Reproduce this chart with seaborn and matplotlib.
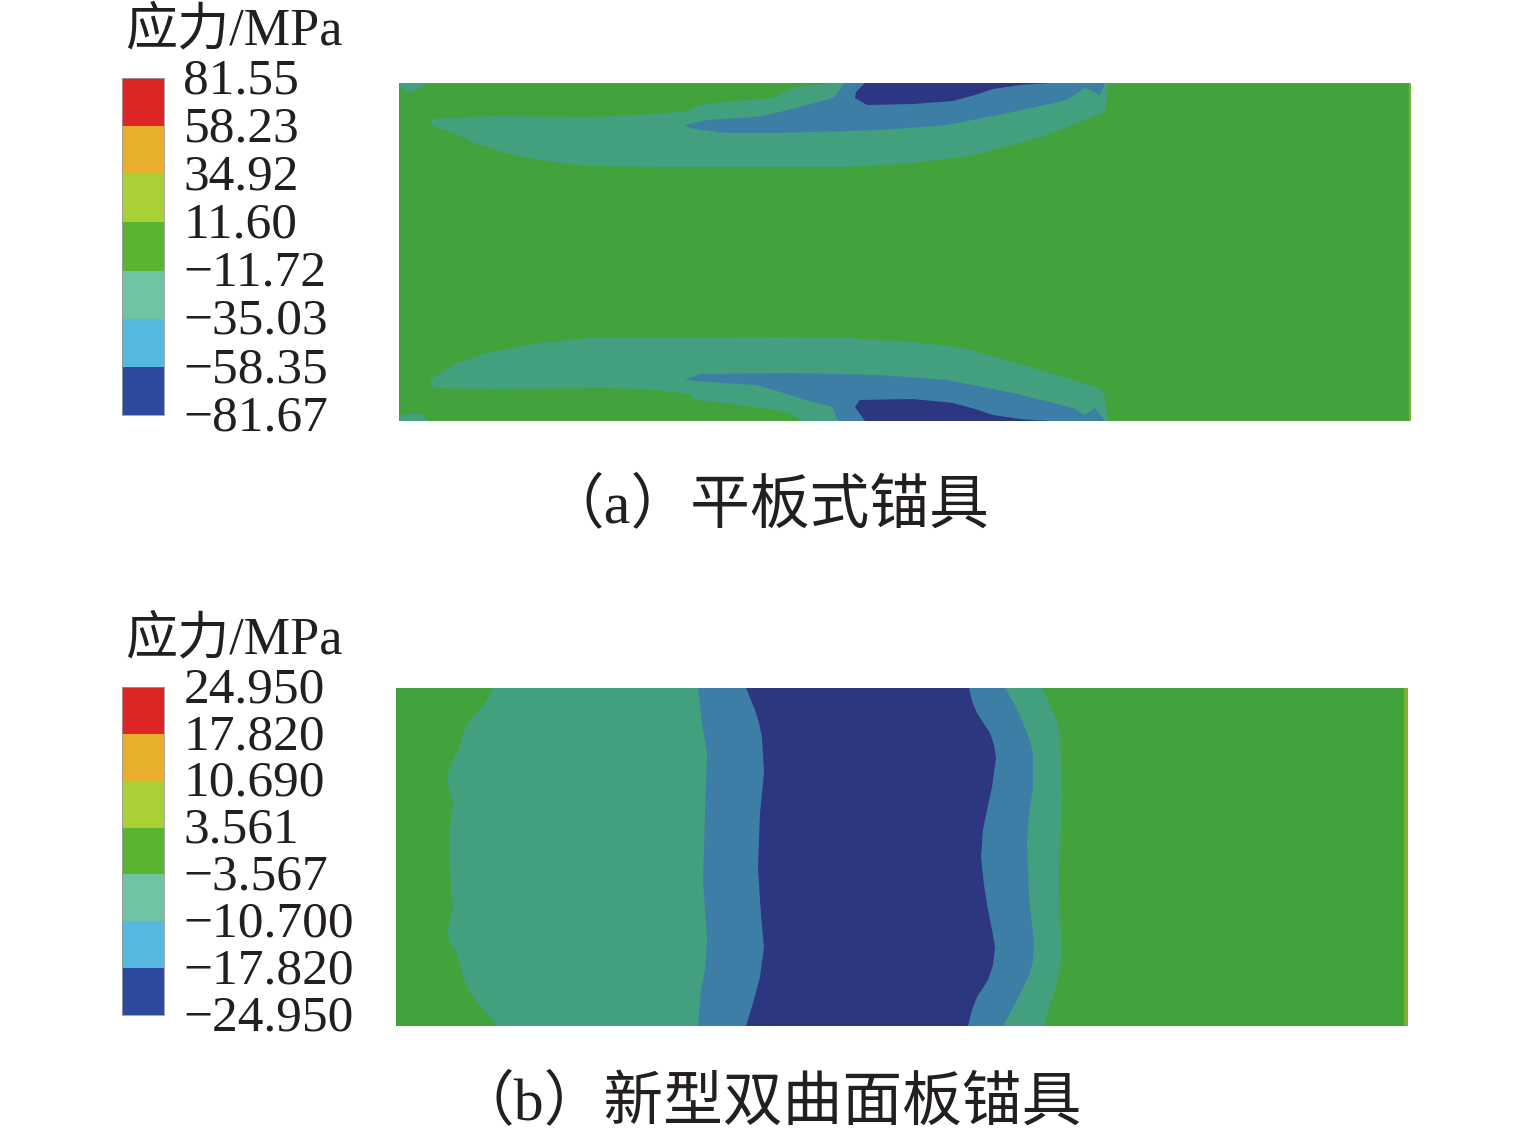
import numpy as np
import matplotlib
matplotlib.use('Agg')
import matplotlib.pyplot as plt
from matplotlib.colors import ListedColormap
from matplotlib.transforms import ScaledTranslation
import seaborn as sns

# --- DATA (contour outlines in image pixels) ---
labels_a = ['81.55', '58.23', '34.92', '11.60', '−11.72', '−35.03', '−58.35', '−81.67']
labels_b = ['24.950', '17.820', '10.690', '3.561', '−3.567', '−10.700', '−17.820', '−24.950']
legend_title = '应力/MPa'
caption_a = '（a）平板式锚具'
caption_b = '（b）新型双曲面板锚具'

# plate (a), top side
a_top_teal_x = [430, 433, 490, 590, 657, 688, 693, 700, 723, 773, 793, 813, 843, 1108, 1107, 1105, 1080, 1047, 1013, 970, 913, 847, 780, 657, 590, 560, 540, 512, 490, 472, 457, 445, 433]
a_top_teal_y = [122, 119, 116, 117, 114, 111, 108, 105, 102, 98, 88, 85, 83, 83, 100, 112, 122, 135, 145, 156, 163, 167, 167, 167, 166, 163, 160, 155, 148, 142, 135, 130, 126]
a_top_blue_x = [685, 707, 757, 780, 807, 833, 845, 1105, 1100, 1085, 1067, 1013, 947, 880, 813, 780, 723, 690]
a_top_blue_y = [125, 120, 117, 112, 105, 98, 83, 83, 95, 88, 100, 112, 125, 130, 132, 133, 133, 128]
a_top_navy_x = [865, 856, 855, 867, 913, 953, 975, 993, 1020, 1047]
a_top_navy_y = [83, 92, 98, 105, 104, 101, 95, 89, 85, 83]
a_top_corner_x = [399, 428, 420, 412, 402]
a_top_corner_y = [83, 83, 88, 93, 90]

# plate (a), bottom side
a_bot_teal_x = [430, 433, 490, 607, 657, 688, 697, 740, 773, 790, 803, 1108, 1105, 1100, 1063, 1013, 963, 913, 847, 780, 590, 540, 490, 457, 442]
a_bot_teal_y = [380, 388, 389, 388, 390, 394, 400, 405, 410, 413, 421, 421, 397, 388, 377, 362, 348, 342, 338, 337, 338, 343, 352, 363, 372]
a_bot_blue_x = [685, 700, 790, 880, 947, 1013, 1073, 1085, 1095, 1105, 838, 832, 813, 780, 757, 723]
a_bot_blue_y = [380, 374, 373, 375, 380, 393, 408, 415, 408, 421, 421, 407, 402, 392, 385, 383]
a_bot_navy_x = [865, 855, 860, 913, 953, 975, 993, 1020, 1047]
a_bot_navy_y = [421, 407, 400, 399, 403, 409, 415, 419, 421]
a_bot_corner_x = [399, 402, 413, 423, 428]
a_bot_corner_y = [421, 415, 413, 415, 421]

# plate (b), band boundaries from top to bottom
b_left1_x = [493, 487, 480, 467, 462, 458, 452, 448, 447, 450, 453, 450, 450, 451, 453, 450, 447, 450, 457, 462, 468, 483, 498]
b_left1_y = [688, 700, 710, 723, 737, 750, 762, 773, 783, 792, 802, 827, 867, 890, 907, 920, 933, 943, 953, 973, 990, 1010, 1026]
b_left2_x = [698, 700, 702, 707, 706, 705, 703, 705, 707, 705, 701, 698]
b_left2_y = [688, 705, 723, 753, 783, 813, 880, 910, 940, 970, 990, 1026]
b_left3_x = [746, 755, 759, 762, 764, 762, 760, 758, 760, 762, 764, 762, 760, 753, 746]
b_left3_y = [688, 710, 723, 737, 773, 793, 813, 867, 900, 927, 947, 962, 977, 1003, 1026]
b_right1_x = [969, 972, 977, 990, 994, 996, 992, 987, 983, 981, 984, 988, 992, 995, 993, 988, 977, 972, 968]
b_right1_y = [688, 701, 713, 733, 745, 758, 787, 810, 830, 857, 885, 910, 930, 947, 965, 980, 997, 1010, 1026]
b_right2_x = [1005, 1015, 1023, 1030, 1033, 1033, 1029, 1027, 1029, 1034, 1033, 1030, 1017, 1003]
b_right2_y = [688, 705, 723, 740, 753, 787, 815, 840, 897, 943, 960, 973, 1000, 1026]
b_right3_x = [1042, 1052, 1060, 1062, 1059, 1060, 1062, 1060, 1055, 1049, 1043]
b_right3_y = [688, 708, 730, 797, 880, 915, 947, 970, 990, 1008, 1026]

# --- STYLE ---
sns.set_theme(style="white")
plt.rcParams['font.family'] = ['Liberation Serif', 'Noto Sans CJK SC']
plt.rcParams['axes.unicode_minus'] = False

legend_colors = ['#dc2626', '#e8b02a', '#a9d136', '#5ab432', '#6fc4a4', '#55b8de', '#2e4a9e']
GREEN = '#42a23c'
TEAL = '#42a07e'
BLUE = '#3d7ea6'
NAVY = '#2d3680'
TEXT = '#231f20'

W, H = 1535, 1138
fig = plt.figure(figsize=(W / 100, H / 100), dpi=100)


def px_axes(x0, y0, x1, y1):
    return fig.add_axes([x0 / W, 1 - y1 / H, (x1 - x0) / W, (y1 - y0) / H])


def px_text(x, y, s, size, ha='left'):
    fig.text(x / W, 1 - y / H, s, fontsize=size, ha=ha, va='center', color=TEXT)


def draw_legend(box, labels):
    ax = px_axes(*box)
    cells = np.arange(len(labels) - 1).reshape(-1, 1)
    sns.heatmap(cells, ax=ax, cmap=ListedColormap(legend_colors), cbar=False,
                xticklabels=False, linewidths=0)
    ax.set_yticks(np.arange(len(labels)))
    ax.set_yticklabels(labels, rotation=0, fontsize=37, color=TEXT)
    ax.yaxis.tick_right()
    ax.tick_params(axis='y', length=0, pad=14)
    # labels sit a little higher than matplotlib centres them
    for lab in ax.get_yticklabels():
        lab.set_transform(lab.get_transform() + ScaledTranslation(0, 2.5 / 100, fig.dpi_scale_trans))
    for s in ax.spines.values():
        s.set_visible(True)
        s.set_color('#9a9a9a')
        s.set_linewidth(0.6)


def plate_axes(x0, y0, x1, y1):
    ax = px_axes(x0, y0, x1, y1)
    ax.set_xlim(x0, x1)
    ax.set_ylim(y1, y0)
    ax.set_facecolor(GREEN)
    ax.set_xticks([])
    ax.set_yticks([])
    for s in ax.spines.values():
        s.set_visible(False)
    return ax


# --- PANEL (a) ---
draw_legend((122, 78, 164, 415), labels_a)
px_text(125, 31, legend_title, 37.5)
ax_a = plate_axes(399, 83, 1411, 421)
for xs, ys, c in [(a_top_corner_x, a_top_corner_y, TEAL),
                  (a_top_teal_x, a_top_teal_y, TEAL),
                  (a_top_blue_x, a_top_blue_y, BLUE),
                  (a_top_navy_x, a_top_navy_y, NAVY),
                  (a_bot_corner_x, a_bot_corner_y, TEAL),
                  (a_bot_teal_x, a_bot_teal_y, TEAL),
                  (a_bot_blue_x, a_bot_blue_y, BLUE),
                  (a_bot_navy_x, a_bot_navy_y, NAVY)]:
    ax_a.fill(xs, ys, color=c, lw=0)
ax_a.axvline(1410, color='#7fae35', lw=1.5)
px_text(767, 507, caption_a, 43, ha='center')

# --- PANEL (b) ---
draw_legend((122, 687, 164, 1015), labels_b)
px_text(125, 640, legend_title, 37.5)
ax_b = plate_axes(396, 688, 1408, 1026)
for lx, ly, rx, ry, c in [(b_left1_x, b_left1_y, b_right3_x, b_right3_y, TEAL),
                          (b_left2_x, b_left2_y, b_right2_x, b_right2_y, BLUE),
                          (b_left3_x, b_left3_y, b_right1_x, b_right1_y, NAVY)]:
    ax_b.fill(lx + rx[::-1], ly + ry[::-1], color=c, lw=0)
ax_b.axvline(1405.5, color='#7fae35', lw=3)
px_text(768, 1104, caption_b, 43, ha='center')

plt.savefig('out.png', dpi=100)
plt.close()
